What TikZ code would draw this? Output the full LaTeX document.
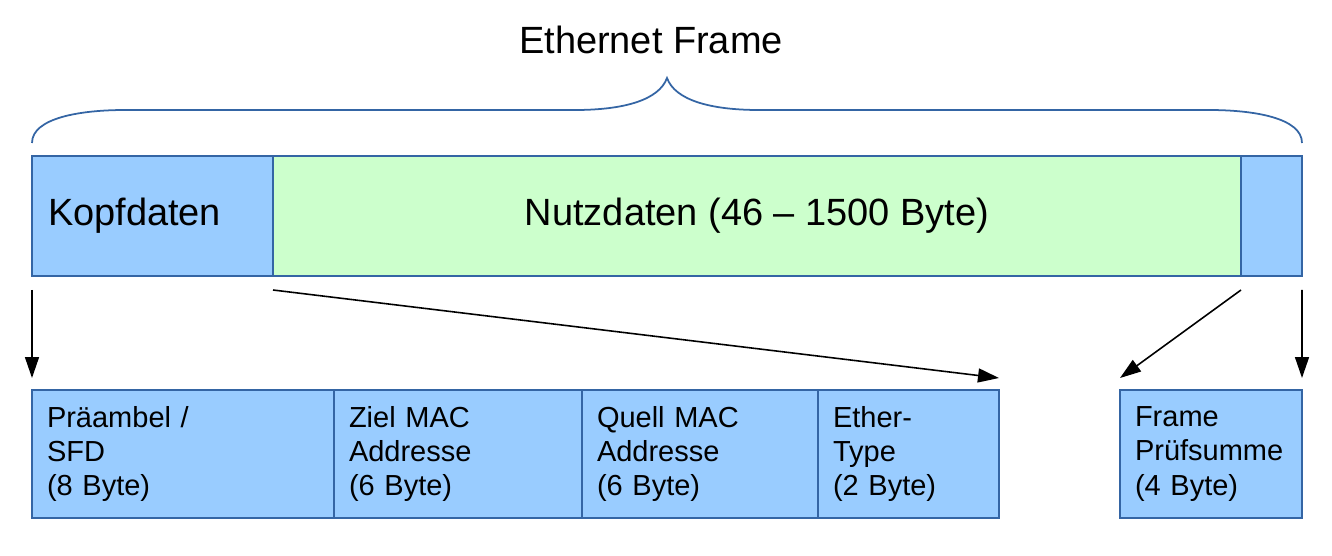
\documentclass[tikz,border=0pt]{standalone}
\usepackage{fontspec}
\setmainfont{Liberation Sans}
\usetikzlibrary{arrows.meta,positioning}
\definecolor{feldblau}{HTML}{99CCFF}
\definecolor{feldgruen}{HTML}{CCFFCC}
\definecolor{randblau}{HTML}{3465A4}

\begin{document}
\begin{tikzpicture}[
    kopfbox/.style={rectangle, draw=randblau, line width=0.8pt, fill=feldblau, minimum height=2.4cm, inner ysep=0pt, outer sep=0pt, font=\fontsize{21.6}{26}\selectfont},
    feld/.style={rectangle, draw=randblau, line width=0.8pt, fill=feldblau, minimum height=2.56cm, inner xsep=0.3cm, inner ysep=0pt, outer sep=0pt, align=left, font=\fontsize{16.5}{19.4}\selectfont},
    brace/.style={draw=randblau, line width=1pt},
    arrow/.style={-{Triangle[length=0.42cm,width=0.28cm]}, line width=0.9pt}]

    \useasboundingbox (0,0) rectangle (26.64,-11.12);

    \node [font=\fontsize{21.6}{26}\selectfont] (titel) at (13.02,-0.8) {Ethernet Frame};

    % geschweifte Klammer ueber dem ganzen Frame
    \draw [brace] (0.64,-2.86) .. controls (0.64,-2.36) and (1.6,-2.2) .. (2.5,-2.2)
        -- (11.5,-2.2) .. controls (12.48,-2.2) and (13.18,-2.0) .. (13.34,-1.56)
        .. controls (13.5,-2.0) and (14.2,-2.2) .. (15.18,-2.2)
        -- (24.18,-2.2) .. controls (25.08,-2.2) and (26.04,-2.36) .. (26.04,-2.86);

    % obere Zeile
    \node [kopfbox, anchor=north west, inner xsep=0.32cm, text width=4.18cm, align=left] (kopf) at (0.64,-3.12) {Kopfdaten};
    \node [kopfbox, fill=feldgruen, minimum width=19.36cm, right=0pt of kopf] (nutz) {Nutzdaten (46 -- 1500 Byte)};
    \node [kopfbox, minimum width=1.22cm, inner xsep=0pt, right=0pt of nutz] (fcs) {};

    % untere Zeile
    \node [feld, anchor=north west, text width=5.44cm] (pre) at (0.64,-7.8) {Präambel /\\SFD\\(8 Byte)};
    \node [feld, text width=4.36cm, right=0pt of pre] (ziel) {Ziel MAC\\Addresse\\(6 Byte)};
    \node [feld, text width=4.12cm, right=0pt of ziel] (quell) {Quell MAC\\Addresse\\(6 Byte)};
    \node [feld, text width=3.02cm, right=0pt of quell] (ether) {Ether-\\Type\\(2 Byte)};
    \node [feld, anchor=north west, text width=3.04cm] (pruef) at (22.4,-7.8) {Frame\\Prüfsumme\\(4 Byte)};

    \draw [arrow] ([yshift=-0.28cm]kopf.south west) -- ([yshift=0.24cm]pre.north west);
    \draw [arrow] ([yshift=-0.28cm]nutz.south west) -- ([yshift=0.24cm]ether.north east);
    \draw [arrow] ([yshift=-0.28cm]nutz.south east) -- ([yshift=0.24cm]pruef.north west);
    \draw [arrow] ([yshift=-0.28cm]fcs.south east) -- ([yshift=0.24cm]pruef.north east);
\end{tikzpicture}
\end{document}
